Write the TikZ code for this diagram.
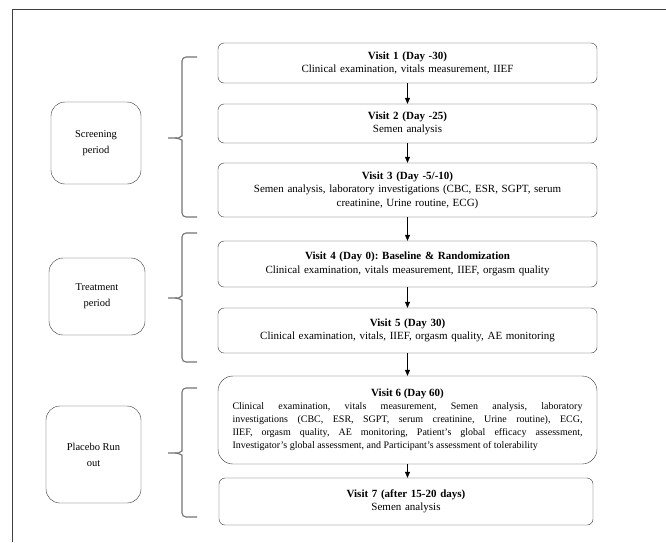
\documentclass[tikz,border=0pt]{standalone}
\usepackage{fontspec}
\setmainfont{Liberation Serif}
\usetikzlibrary{arrows.meta}
\frenchspacing

% left brace: top, tip, bottom (y values)
\newcommand{\phasebrace}[3]{%
    \draw[phase] (197,#1) -- (182,#1) -- (182,#2-6) to[out=-90,in=0] (175,#2) -- (168,#2);
    \draw[phase] (175,#2) to[out=0,in=90] (182,#2+6) -- (182,#3) -- (197,#3);
}

\begin{document}
\begin{tikzpicture}[
        x=1pt, y=-1pt,
        visit/.style={
            draw=black!80,
            rounded corners=6pt,
            minimum width=379pt,
            text width=370pt,
            align=center,
            inner sep=0pt,
            font=\fontsize{11}{13.5}\selectfont
        },
        period/.style={
            draw=black!80,
            rounded corners=14pt,
            align=center,
            inner sep=0pt,
            font=\fontsize{10.5}{16}\selectfont
        },
        flow/.style={
            -{Triangle[length=6pt,width=5pt]},
            black
        },
        phase/.style={
            draw=black!55,
            line width=1.1pt,
            rounded corners=4pt
        },
        frame/.style={
            draw=black!75,
            line width=1.5pt
        }
    ]

    \useasboundingbox (0,0) rectangle (666,542);

    % Frame
    \draw[frame] (12.5,542) |- (666,9.5);

    % Visits
    \node[visit, minimum height=40pt] (v1) at (407.5,63)
        {\textbf{Visit 1 (Day -30)}\\Clinical examination, vitals measurement, IIEF};

    \node[visit, minimum height=39pt] (v2) at (407.5,123.5)
        {\textbf{Visit 2 (Day -25)}\\Semen analysis};

    \node[visit, minimum height=54pt] (v3) at (407.5,190)
        {\textbf{Visit 3 (Day -5/-10)}\\Semen analysis, laboratory investigations (CBC, ESR, SGPT, serum\\creatinine, Urine routine, ECG)};

    \node[visit, minimum height=46pt] (v4) at (407.5,264)
        {\textbf{Visit 4 (Day 0): Baseline \& Randomization}\\Clinical examination, vitals measurement, IIEF, orgasm quality};

    \node[visit, minimum height=45pt] (v5) at (407.5,330.5)
        {\textbf{Visit 5 (Day 30)}\\Clinical examination, vitals, IIEF, orgasm quality, AE monitoring};

    \node[visit, minimum height=88pt, rounded corners=15pt,
          text width=350pt, align=justify,
          font=\fontsize{10}{13}\selectfont] (v6) at (407.5,420)
        {{\centering\fontsize{11}{13}\selectfont\textbf{Visit 6 (Day 60)}\par}
         Clinical examination, vitals measurement, Semen analysis, laboratory\linebreak
         investigations (CBC, ESR, SGPT, serum creatinine, Urine routine), ECG,\linebreak
         IIEF, orgasm quality, AE monitoring, Patient's global efficacy assessment,\linebreak
         Investigator's global assessment, and Participant's assessment of tolerability};

    \node[visit, minimum height=47pt, minimum width=374pt] (v7) at (406,501.5)
        {\textbf{Visit 7 (after 15-20 days)}\\Semen analysis};

    % Periods
    \node[period, minimum width=90pt, minimum height=82pt] (screening) at (96,143)
        {Screening\\period};

    \node[period, minimum width=96pt, minimum height=77pt] (treatment) at (97,296.5)
        {Treatment\\period};

    \node[period, minimum width=95pt, minimum height=97pt] (placebo) at (93.5,454.5)
        {Placebo Run\\out};

    % Arrows between visits
    \draw[flow] (v1) -- (v2);
    \draw[flow] (v2) -- (v3);
    \draw[flow] (v3) -- (v4);
    \draw[flow] (v4) -- (v5);
    \draw[flow] (v5) -- (v6);
    \draw[flow] (v6.south) -- (v6.south |- v7.north);

    % Braces
    \phasebrace{57}{138}{217}
    \phasebrace{233}{298}{362}
    \phasebrace{388}{453}{517}

\end{tikzpicture}
\end{document}
